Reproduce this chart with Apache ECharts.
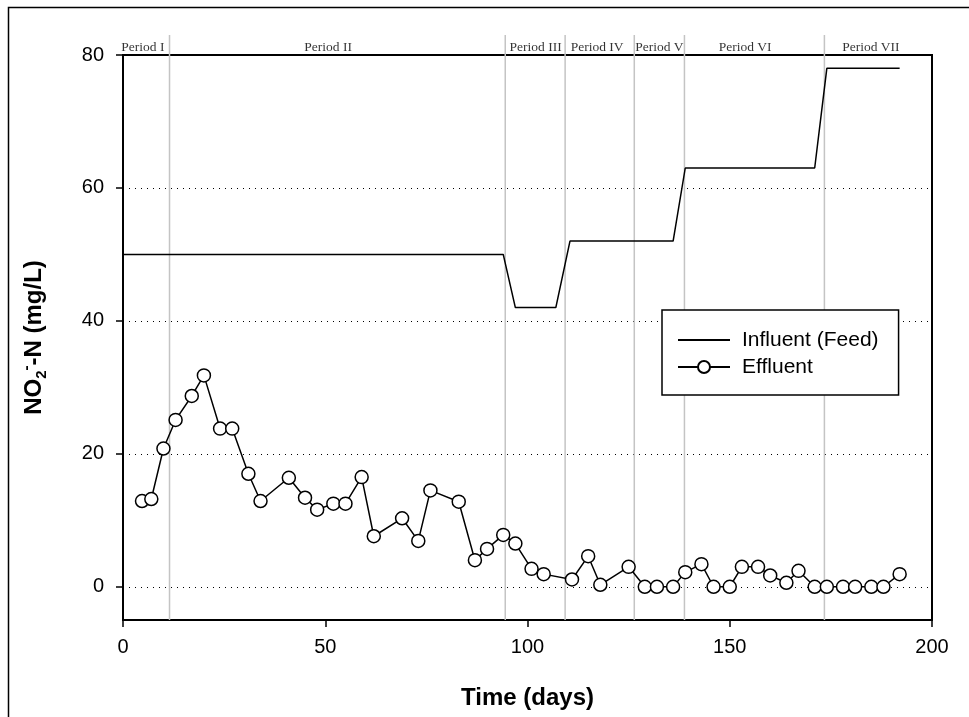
<!DOCTYPE html>
<html>
<head>
<meta charset="utf-8">
<script src="https://cdn.jsdelivr.net/npm/echarts@6/dist/echarts.min.js"></script>
<style>
    html, body { margin: 0; padding: 0; background: #fff; }
    #chart { width: 969px; height: 717px; }
</style>
</head>
<body>
<div id="chart"></div>
<script>
    // effluent NO2-N readings (day, mg/L)
    const effluentDays = [4.7, 7, 10, 13, 17, 20, 24, 27, 31, 34, 41, 45, 48, 52, 55, 59, 62, 69, 73, 76,
        83, 87, 90, 94, 97, 101, 104, 111, 115, 118, 125, 129, 132, 136, 139, 143, 146, 150, 153, 157,
        160, 164, 167, 171, 174, 178, 181, 185, 188, 192];
    const effluentValues = [12.9, 13.2, 20.8, 25.1, 28.7, 31.8, 23.8, 23.8, 17.0, 12.9, 16.4, 13.4, 11.6, 12.5, 12.5, 16.5, 7.6, 10.3, 6.9, 14.5,
        12.8, 4.0, 5.7, 7.8, 6.5, 2.7, 1.9, 1.1, 4.6, 0.3, 3.0, 0, 0, 0, 2.2, 3.4, 0, 0, 3.0, 3.0,
        1.7, 0.6, 2.4, 0, 0, 0, 0, 0, 0, 1.9];

    // feed concentration steps
    const influentDays = [0, 94, 97, 107, 110.5, 136, 139, 171, 174, 192];
    const influentValues = [50, 50, 42, 42, 52, 52, 63, 63, 78, 78];

    // operating periods
    const periodBounds = [11.5, 94.5, 109.3, 126.4, 138.8, 173.4];
    const periodNames = ['Period I', 'Period II', 'Period III', 'Period IV', 'Period V', 'Period VI', 'Period VII'];
    const periodLabelDays = [4.9, 50.7, 102, 117.2, 132.6, 153.8, 184.9];

    const yTicks = [0, 20, 40, 60, 80];

    const pair = (xs, ys) => xs.map((x, i) => [x, ys[i]]);

    const myChart = echarts.init(document.getElementById('chart'), null, {renderer: 'canvas'});

    myChart.setOption({
        animation: false,
        backgroundColor: '#fff',
        textStyle: {fontFamily: 'Liberation Sans'},
        graphic: [
            {
                type: 'rect',
                left: 6, top: 5, silent: true,
                shape: {width: 1200, height: 1000},
                style: {fill: 'none', stroke: '#000', lineWidth: 1.5}
            }
        ],
        grid: {
            left: 123, right: 37, top: 55, bottom: 97,
            show: true, borderColor: '#000', borderWidth: 2, backgroundColor: 'transparent'
        },
        legend: {
            data: [
                {name: 'Influent (Feed)', itemStyle: {opacity: 0}},
                {name: 'Effluent'}
            ],
            orient: 'vertical',
            left: 662, top: 310,
            padding: [18, 20, 16, 15],
            itemGap: 3,
            itemWidth: 52, itemHeight: 15,
            backgroundColor: '#fff',
            borderColor: '#000', borderWidth: 1.5,
            textStyle: {fontSize: 21, color: '#000', lineHeight: 24, padding: [0, 0, 0, 7]}
        },
        xAxis: {
            type: 'value',
            min: 0, max: 200, interval: 50,
            name: 'Time (days)',
            nameLocation: 'middle',
            nameGap: 66,
            nameTextStyle: {fontSize: 24, fontWeight: 'bold', color: '#000'},
            axisLine: {onZero: false, lineStyle: {color: '#000', width: 2}},
            axisTick: {show: true, length: 7, lineStyle: {color: '#000', width: 1.5}},
            axisLabel: {fontSize: 20, color: '#000', margin: 17},
            splitLine: {show: false}
        },
        yAxis: {
            type: 'value',
            min: -5, max: 80,
            name: '{b|NO}{sub|2}{sup|-}{b|-N (mg/L)}',
            nameLocation: 'middle',
            nameGap: 74,
            nameTextStyle: {
                rich: {
                    b: {fontSize: 24, fontWeight: 'bold', color: '#000', lineHeight: 30, verticalAlign: 'middle'},
                    sub: {fontSize: 15, fontWeight: 'bold', color: '#000', verticalAlign: 'bottom'},
                    sup: {fontSize: 15, fontWeight: 'bold', color: '#000', verticalAlign: 'top'}
                }
            },
            axisLine: {show: true, onZero: false, lineStyle: {color: '#000', width: 2}},
            axisTick: {show: true, length: 7, customValues: yTicks, lineStyle: {color: '#000', width: 1.5}},
            axisLabel: {fontSize: 20, color: '#000', margin: 19, customValues: yTicks},
            splitLine: {show: true, lineStyle: {color: '#000', width: 1, type: [1, 5]}}
        },
        series: [
            {
                // gray dividers between operating periods
                name: 'dividers',
                type: 'custom',
                silent: true,
                clip: false,
                z: 1,
                data: periodBounds.map(d => [d]),
                renderItem: (params, api) => {
                    const d = api.value(0);
                    const top = api.coord([d, 83]);
                    const bot = api.coord([d, -5]);
                    return {
                        type: 'line',
                        shape: {x1: top[0], y1: top[1], x2: bot[0], y2: bot[1]},
                        style: {stroke: '#c4c4c4', lineWidth: 1.5}
                    };
                }
            },
            {
                name: 'periods',
                type: 'scatter',
                silent: true,
                clip: false,
                z: 1,
                symbolSize: 1,
                itemStyle: {color: 'rgba(0,0,0,0)'},
                label: {
                    show: true,
                    position: 'top',
                    distance: 0,
                    fontFamily: 'Liberation Serif',
                    fontSize: 13.5,
                    color: '#000',
                    formatter: p => p.name
                },
                data: periodNames.map((n, i) => ({name: n, value: [periodLabelDays[i], 80]}))
            },
            {
                name: 'Influent (Feed)',
                type: 'line',
                symbol: 'none',
                z: 3,
                lineStyle: {color: '#000', width: 1.5},
                itemStyle: {color: '#000'},
                data: pair(influentDays, influentValues)
            },
            {
                name: 'Effluent',
                type: 'line',
                symbol: 'circle',
                symbolSize: 13,
                z: 4,
                lineStyle: {color: '#000', width: 1.5},
                itemStyle: {color: '#fff', borderColor: '#000', borderWidth: 1.5},
                data: pair(effluentDays, effluentValues)
            }
        ]
    });
</script>
</body>
</html>
